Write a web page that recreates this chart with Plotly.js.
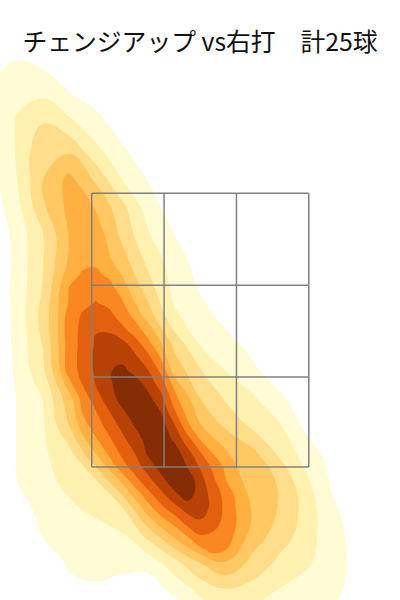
<!DOCTYPE html>
<html><head><meta charset="utf-8">
<script src="https://cdn.plot.ly/plotly-3.0.1.min.js"></script>
<style>html,body{margin:0;padding:0;background:#fff}</style></head>
<body><div id="c" style="width:400px;height:600px"></div>
<script>
const titleText = "チェンジアップ vs右打　計25球";
const gridX = [-1.6,-1.4,-1.2,-1.0,-0.8,-0.6,-0.4,-0.2,0,0.2,0.4,0.6,0.8,1.0,1.2,1.4,1.6];
const gridY = [0.4,0.6,0.8,1.0,1.2,1.4,1.6,1.8,2.0,2.2,2.4,2.6,2.8,3.0,3.2,3.4,3.6,3.8,4.0,4.2,4.4,4.6,4.8];
const density = [
[0,0,0,0,0.2,0.2,0.1,0.1,1.2,1.7,1.5,1.0,0.9,0.8,0.4,0,0],
[0,0,0.1,0.7,0.9,0.65,0.4,1.25,2.25,2.85,2.6,1.95,1.5,1.2,0.75,0.1,0],
[0,0,0.3,1.15,1.2,1.25,1.35,2.6,4.0,4.9,3.65,2.8,2.2,1.45,0.7,0.2,0],
[0,0.3,1.05,1.25,1.45,1.85,3.3,5.2,7.0,6.4,4.6,3.5,2.6,1.35,0.7,0.2,0],
[0,0.6,1.3,1.8,2.3,2.85,5.6,7.6,8.6,6.7,4.87,3.95,2.7,1.15,0.6,0.1,0],
[0.2,1.0,1.6,2.33,2.9,5.2,7.6,9.8,8.3,6.0,4.35,3.95,2.25,0.9,0.4,0,0],
[0,1.05,1.85,2.65,5.0,7.3,9.1,9.8,7.1,5.1,4.3,2.83,1.6,0.6,0.2,0,0],
[0,1.05,1.9,4.0,6.9,8.4,9.6,7.5,5.1,3.8,2.8,2.15,0.8,0.2,0,0,0],
[0,1.05,2.05,4.7,7.4,9.25,9.7,6.5,4.0,2.85,2.15,1.2,0.5,0,0,0,0],
[0,1.2,2.8,6.2,8.1,9.3,8.1,4.7,3.1,2.0,1.2,0.5,0.1,0,0,0,0],
[0,1.3,3.1,6.4,8.1,8.3,6.4,3.7,1.9,1.3,0.7,0.2,0,0,0,0,0],
[0,1.35,3.4,6.2,7.6,6.6,4.6,2.2,1.4,0.7,0.2,0,0,0,0,0,0],
[0,1.4,3.1,6.1,6.7,5.5,3.5,1.7,0.9,0.2,0,0,0,0,0,0,0],
[0,1.35,3.0,5.2,5.9,4.5,2.75,1.5,0.6,0.1,0,0,0,0,0,0,0],
[0,1.4,3.0,5.1,5.6,3.75,2.1,1.0,0.3,0,0,0,0,0,0,0,0],
[0.4,1.7,3.85,5.3,4.95,3.3,1.5,0.5,0.1,0,0,0,0,0,0,0,0],
[0.6,2.0,4.0,5.3,3.8,2.0,0.95,0.4,0,0,0,0,0,0,0,0,0],
[0.85,2.1,3.9,3.9,2.35,1.2,0.4,0.1,0,0,0,0,0,0,0,0,0],
[0.9,2.1,3.1,2.35,1.35,0.6,0.2,0,0,0,0,0,0,0,0,0,0],
[1.05,1.85,1.95,1.1,0.7,0.3,0,0,0,0,0,0,0,0,0,0,0],
[0.85,1.2,1.0,0.5,0.2,0,0,0,0,0,0,0,0,0,0,0,0],
[0.3,0.6,0.4,0.1,0,0,0,0,0,0,0,0,0,0,0,0,0],
[0,0,0,0,0,0,0,0,0,0,0,0,0,0,0,0,0]
];
const coreX = [-1.1,-1.0,-0.9,-0.8,-0.7,-0.6,-0.5,-0.4,-0.3,-0.2,-0.1,0,0.1,0.2,0.3];
const coreY = [0.8,0.9,1.0,1.1,1.2,1.3,1.4,1.5,1.6,1.7,1.8,1.9,2.0,2.1,2.2,2.3,2.4,2.5,2.6,2.7,2.8,2.9,3.0];
const coreDensity = [
[4.5,4.5,4.5,4.5,4.5,4.5,4.5,4.5,4.5,4.5,4.5,4.8,5.0,4.8,4.5],
[4.5,4.5,4.5,4.5,4.5,4.5,4.5,4.5,4.5,4.5,4.9,5.8,6.4,6.0,5.0],
[4.5,4.5,4.5,4.5,4.5,4.5,4.5,4.5,4.5,5.1,6.05,6.95,6.8,6.4,5.65],
[4.5,4.5,4.5,4.5,4.5,4.5,4.5,4.6,5.45,6.35,7.4,7.85,7.4,6.65,5.8],
[4.5,4.5,4.5,4.5,4.5,4.5,4.5,5.55,6.7,7.6,8.4,8.6,7.65,6.7,5.7],
[4.5,4.5,4.5,4.5,4.5,4.5,5.3,6.65,7.7,8.75,9.5,8.5,7.65,6.55,5.55],
[4.5,4.5,4.5,4.5,4.5,5.2,6.6,7.65,8.65,9.6,9.8,8.4,7.2,6.0,5.15],
[4.5,4.5,4.5,4.5,5.3,6.5,7.5,8.45,9.4,9.85,9.0,7.9,6.75,5.7,4.8],
[4.5,4.5,4.5,5.0,6.15,7.2,8.0,9.15,9.8,9.6,8.45,7.1,5.95,4.95,4.5],
[4.5,4.5,4.6,5.85,6.8,7.7,8.55,9.35,9.75,8.85,7.45,6.0,5.0,4.5,4.5],
[4.5,4.5,5.5,6.5,7.35,8.25,9.05,9.7,9.5,8.2,6.3,5.1,4.5,4.5,4.5],
[4.5,4.5,6.05,6.9,7.9,8.8,9.5,9.75,9.0,7.2,5.65,4.5,4.5,4.5,4.5],
[4.5,4.7,6.4,7.5,8.5,9.35,9.8,9.3,8.35,6.5,4.9,4.5,4.5,4.5,4.5],
[4.5,5.7,7.0,8.0,8.8,9.45,9.55,8.7,7.6,5.75,4.5,4.5,4.5,4.5,4.5],
[4.95,6.4,7.35,8.15,8.9,9.35,8.7,8.1,6.8,4.7,4.5,4.5,4.5,4.5,4.5],
[5.15,6.45,7.4,8.2,8.6,8.65,8.25,7.3,5.9,4.6,4.5,4.5,4.5,4.5,4.5],
[5.15,6.4,7.35,8.1,8.45,8.35,7.5,6.35,5.1,4.5,4.5,4.5,4.5,4.5,4.5],
[5.25,6.45,7.3,7.95,7.9,7.3,6.55,5.5,4.5,4.5,4.5,4.5,4.5,4.5,4.5],
[5.3,6.35,7.15,7.55,7.35,6.6,5.75,4.6,4.5,4.5,4.5,4.5,4.5,4.5,4.5],
[4.8,6.15,6.7,7.05,6.75,6.15,5.15,4.5,4.5,4.5,4.5,4.5,4.5,4.5,4.5],
[4.5,6.1,6.55,6.7,6.4,5.6,4.6,4.5,4.5,4.5,4.5,4.5,4.5,4.5,4.5],
[4.5,5.6,6.15,6.2,5.85,5.0,4.5,4.5,4.5,4.5,4.5,4.5,4.5,4.5,4.5],
[4.5,5.2,5.75,5.85,5.4,4.6,4.5,4.5,4.5,4.5,4.5,4.5,4.5,4.5,4.5]
];
const outerColors = ["#ffffff","#fffbd5","#fff1b0","#ffdd8a","#ffc863","#ffb040"];
const coreColors = ["rgba(255,255,255,0)","#fb8722","#e2600e","#b84105","#842d04"];
const zoneX = [-0.83,-0.277,0.277,0.83];
const zoneY = [1.5,2.157,2.828,3.5];

function stepped(colors){
  const s = [];
  colors.forEach((c,i)=>{ s.push([i/colors.length,c]); s.push([(i+1)/colors.length,c]); });
  return s;
}

const lineX = [], lineY = [];
zoneX.forEach(x=>{ lineX.push(x,x,null); lineY.push(zoneY[0],zoneY[3],null); });
zoneY.forEach(y=>{ lineX.push(zoneX[0],zoneX[3],null); lineY.push(y,y,null); });

const traces = [
 {type:"contour",x:gridX,y:gridY,z:density,colorscale:stepped(outerColors),showscale:false,hoverinfo:"skip",
  autocontour:false,contours:{start:1,end:5,size:1,coloring:"fill",showlines:false},line:{width:0,smoothing:1.3}},
 {type:"contour",x:coreX,y:coreY,z:coreDensity,colorscale:stepped(coreColors),showscale:false,hoverinfo:"skip",
  autocontour:false,contours:{start:6,end:9,size:1,coloring:"fill",showlines:false},line:{width:0,smoothing:1.3}},
 {type:"scatter",mode:"lines",x:lineX,y:lineY,line:{color:"#808080",width:1.5},hoverinfo:"skip",showlegend:false}
];
const layout = {
 width:400,height:600,margin:{l:0,r:0,t:0,b:0},paper_bgcolor:"#fff",plot_bgcolor:"#fff",showlegend:false,
 title:{text:titleText,x:0.5,xanchor:"center",y:0.929,yanchor:"middle",font:{family:"'Noto Sans CJK JP'",size:24.8,color:"#111"}},
 xaxis:{range:[-1.532,1.528],visible:false,fixedrange:true},
 yaxis:{range:[0.53,4.91],visible:false,fixedrange:true}
};
Plotly.newPlot("c",traces,layout,{displayModeBar:false,staticPlot:true});
</script></body></html>
